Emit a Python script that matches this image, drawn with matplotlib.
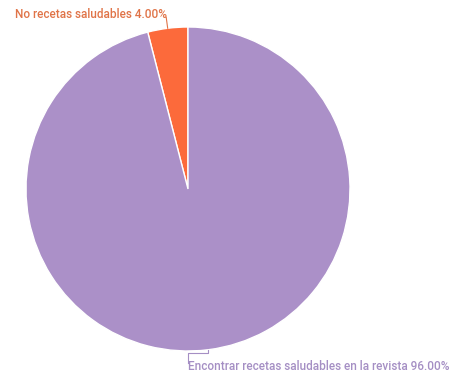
import numpy as np
import matplotlib.pyplot as plt

plt.rcParams['font.family'] = ['Roboto', 'DejaVu Sans']

labels = ["No recetas saludables", "Encontrar recetas saludables en la revista"]
values = [4.0, 96.0]
colors = ["#fc6a3b", "#ab90c8"]
text_colors = ["#e07448", "#a58fc4"]

W, H = 465, 381
fig = plt.figure(figsize=(W / 100, H / 100), dpi=100)
ax = fig.add_axes([0, 0, 1, 1])
ax.set_xlim(0, W)
ax.set_ylim(0, H)
ax.axis('off')

cx, cy, r = 188, H - 189, 162
wedges, _ = ax.pie(values, colors=colors, startangle=90, counterclock=True,
                   center=(cx, cy), radius=r,
                   wedgeprops=dict(edgecolor='white', linewidth=1))
ax.set_xlim(0, W)
ax.set_ylim(0, H)
ax.set_aspect('equal')

# leader line + label for the small slice
w = wedges[0]
ang = np.deg2rad((w.theta1 + w.theta2) / 2)
x0, y0 = cx + r * np.cos(ang), cy + r * np.sin(ang)
ax.plot([x0, x0 - 1.5], [y0, y0 + 11], color=text_colors[0], lw=0.8)
ax.text(15, H - 14, f"{labels[0]} {values[0]:.2f}%", color=text_colors[0],
        fontsize=8.5, fontweight='medium', va='center', ha='left')

# leader line + label for the big slice
w = wedges[1]
ang = np.deg2rad((w.theta1 + w.theta2) / 2)
x1, y1 = cx + r * np.cos(ang), cy + r * np.sin(ang)
ax.plot([x1, x1, cx, cx], [y1, H - 353, H - 353, H - 363],
        color=text_colors[1], lw=0.8)
ax.text(cx, H - 367, f"{labels[1]} {values[1]:.2f}%", color=text_colors[1],
        fontsize=8.5, fontweight='medium', va='center', ha='left')

fig.savefig("out.png", dpi=100, facecolor='white')
